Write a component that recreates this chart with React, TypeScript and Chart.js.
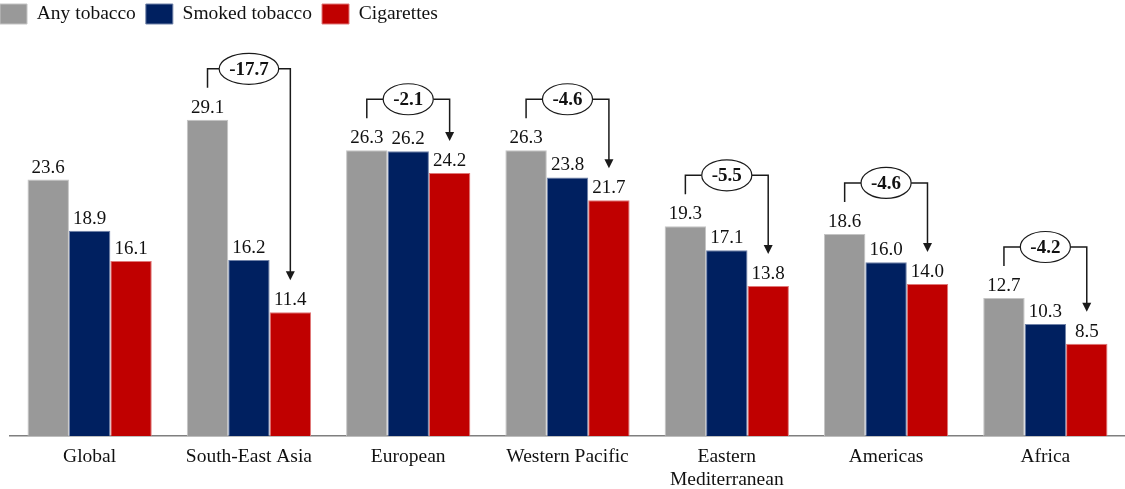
import React, { useEffect, useRef } from "react";
import { Chart, registerables } from "chart.js";

Chart.register(...registerables);

const categories: (string | string[])[] = [
  "Global",
  "South-East Asia",
  "European",
  "Western Pacific",
  ["Eastern", "Mediterranean"],
  "Americas",
  "Africa",
];
const anyTobacco = [23.6, 29.1, 26.3, 26.3, 19.3, 18.6, 12.7];
const smokedTobacco = [18.9, 16.2, 26.2, 23.8, 17.1, 16.0, 10.3];
const cigarettes = [16.1, 11.4, 24.2, 21.7, 13.8, 14.0, 8.5];
const diffLabels: (string | null)[] = [null, "-17.7", "-2.1", "-4.6", "-5.5", "-4.6", "-4.2"];

const FONT = '"Liberation Serif", "Times New Roman", serif';

const annotPlugin = {
  id: "annot",
  afterDatasetsDraw(chart: any) {
    const ctx = chart.ctx as CanvasRenderingContext2D;
    ctx.save();
    ctx.font = `19px ${FONT}`;
    ctx.fillStyle = "#111";
    ctx.textAlign = "center";
    ctx.textBaseline = "alphabetic";
    chart.data.datasets.forEach((ds: any, di: number) => {
      const meta = chart.getDatasetMeta(di);
      meta.data.forEach((bar: any, i: number) => {
        ctx.fillText(Number(ds.data[i]).toFixed(1), bar.x, bar.y - 7);
      });
    });
    const m0 = chart.getDatasetMeta(0);
    const m1 = chart.getDatasetMeta(1);
    const m2 = chart.getDatasetMeta(2);
    diffLabels.forEach((lab, i) => {
      if (!lab) return;
      const g = m0.data[i];
      const n = m1.data[i];
      const r = m2.data[i];
      const yLine = g.y - 51;
      const cx = n.x;
      ctx.font = `bold 19px ${FONT}`;
      const tw = ctx.measureText(lab).width;
      const rx = tw / 2 + 10;
      const ry = 15.5;
      ctx.strokeStyle = "#1a1a1a";
      ctx.fillStyle = "#1a1a1a";
      ctx.lineWidth = 1.5;
      ctx.beginPath();
      ctx.moveTo(g.x, g.y - 32);
      ctx.lineTo(g.x, yLine);
      ctx.lineTo(cx - rx, yLine);
      ctx.moveTo(cx + rx, yLine);
      ctx.lineTo(r.x, yLine);
      ctx.lineTo(r.x, r.y - 32 - 7);
      ctx.stroke();
      const tip = r.y - 32;
      ctx.beginPath();
      ctx.moveTo(r.x, tip);
      ctx.lineTo(r.x - 4.5, tip - 9);
      ctx.lineTo(r.x + 4.5, tip - 9);
      ctx.closePath();
      ctx.fill();
      ctx.beginPath();
      ctx.ellipse(cx, yLine, rx, ry, 0, 0, Math.PI * 2);
      ctx.fillStyle = "#fff";
      ctx.fill();
      ctx.lineWidth = 1.2;
      ctx.stroke();
      ctx.fillStyle = "#111";
      ctx.textBaseline = "middle";
      ctx.fillText(lab, cx, yLine + 1);
      ctx.textBaseline = "alphabetic";
    });
    ctx.restore();
  },
};

export default function App() {
  const ref = useRef<HTMLCanvasElement | null>(null);
  useEffect(() => {
    if (!ref.current) return;
    const chart = new Chart(ref.current, {
      type: "bar",
      data: {
        labels: categories as any,
        datasets: [
          {
            label: "Any tobacco",
            data: anyTobacco,
            backgroundColor: "#999999",
            borderColor: "#c4c4c4",
            borderWidth: 1,
          },
          {
            label: "Smoked tobacco",
            data: smokedTobacco,
            backgroundColor: "#002060",
            borderColor: "#7082a8",
            borderWidth: 1,
          },
          {
            label: "Cigarettes",
            data: cigarettes,
            backgroundColor: "#C00000",
            borderColor: "#e07878",
            borderWidth: 1,
          },
        ],
      },
      options: {
        animation: false,
        responsive: true,
        maintainAspectRatio: false,
        layout: { padding: { left: 0, right: 0, top: 0, bottom: 0 } },
        datasets: { bar: { categoryPercentage: 0.78, barPercentage: 1.0 } },
        plugins: {
          legend: {
            position: "top",
            align: "start",
            labels: {
              boxWidth: 27,
              boxHeight: 20,
              padding: 10,
              color: "#111",
              font: { family: FONT, size: 19.5 },
            },
          },
          tooltip: { enabled: false },
        },
        scales: {
          x: {
            grid: { display: false, drawTicks: false },
            border: { display: true, color: "#7f7f7f", width: 1.5 },
            ticks: {
              color: "#111",
              padding: 10,
              font: { family: FONT, size: 19.5, lineHeight: 1.15 },
              maxRotation: 0,
              autoSkip: false,
            },
            afterFit: (scale: any) => {
              scale.height = 53;
            },
          },
          y: {
            min: 0,
            max: 37,
            display: true,
            grid: { display: false, drawTicks: false },
            border: { display: false },
            ticks: { display: false },
            afterFit: (scale: any) => {
              scale.width = 20;
            },
          },
        },
      },
      plugins: [annotPlugin],
    });
    return () => chart.destroy();
  }, []);
  return (
    <div style={{ position: "absolute", left: -10, top: -6, width: 1135, height: 495 }}>
      <canvas ref={ref} />
    </div>
  );
}
